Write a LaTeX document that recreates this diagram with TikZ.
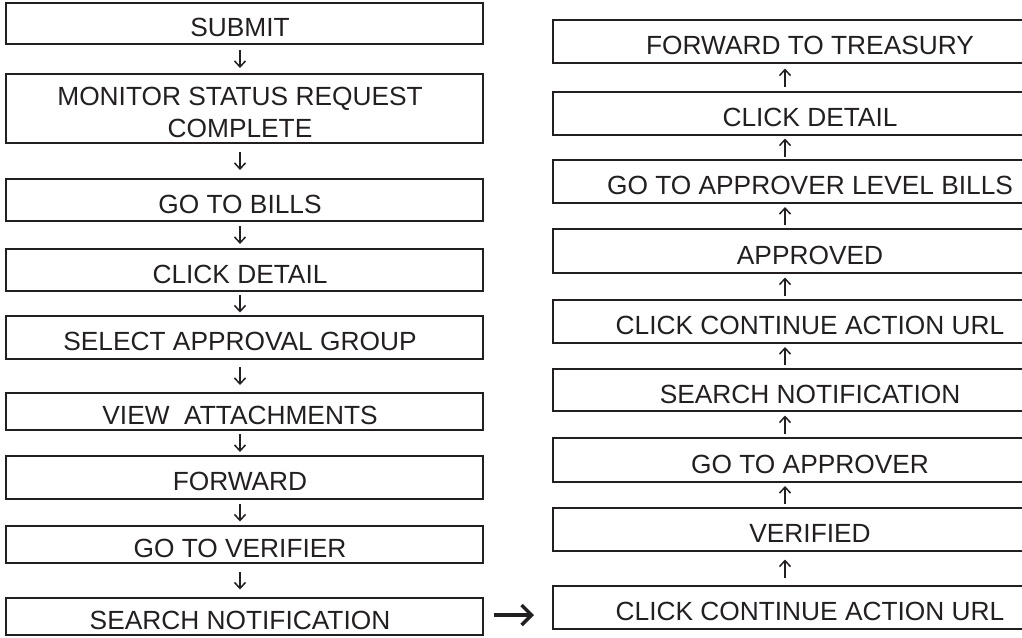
\documentclass[tikz,border=0pt]{standalone}
\usepackage{fontspec}
\setmainfont{Liberation Sans}
\usetikzlibrary{arrows.meta}
\definecolor{ink}{HTML}{231F20}
\newcommand{\lft}{\hspace*{-9pt}}
\begin{document}
\begin{tikzpicture}[x=1pt,y=-1pt,
  box/.style={draw=ink,line width=2pt,inner sep=0pt,text=ink,
    font=\fontsize{26.3}{32}\selectfont,text height=26.8pt,text depth=0pt,minimum height=#1},
  lbox/.style={box=#1,minimum width=477pt},
  rbox/.style={box=#1,minimum width=514pt},
  flow/.style={draw=ink,line width=1.5pt,-{Straight Barb[length=6pt,width=11pt]},shorten <=#1,shorten >=#1},
  jump/.style={draw=ink,line width=3.5pt,-{Straight Barb[length=10pt,width=20pt]},shorten <=10pt,shorten >=18pt}
]
\useasboundingbox (0,0) rectangle (1022,637);
\clip (0,0) rectangle (1022,637);
\coordinate (lx) at (240,0);
\coordinate (rx) at (785,0);
% left column
\node[lbox=41pt]  (L1) at (244.5,23.5)  {\lft SUBMIT};
\node[lbox=69pt,align=center,text height=58.8pt,text depth=0pt] (L2) at (244.5,108.5) {\lft MONITOR STATUS REQUEST\\\lft COMPLETE};
\node[lbox=42pt]  (L3) at (244.5,200)   {\lft GO TO BILLS};
\node[lbox=42pt]  (L4) at (244.5,270)   {\lft CLICK DETAIL};
\node[lbox=43pt]  (L5) at (244.5,337.5) {\lft SELECT APPROVAL GROUP};
\node[lbox=37pt]  (L6) at (244.5,411.5) {\lft VIEW\ \ ATTACHMENTS};
\node[lbox=43pt]  (L7) at (244.5,477.5) {\lft FORWARD};
\node[lbox=37pt]  (L8) at (244.5,544.5) {\lft GO TO VERIFIER};
\node[lbox=37pt]  (L9) at (244.5,616.5) {\lft SEARCH NOTIFICATION};
% right column
\node[rbox=43pt]  (R1) at (810,41.5)  {FORWARD TO TREASURY};
\node[rbox=43pt]  (R2) at (810,113.5) {CLICK DETAIL};
\node[rbox=43pt]  (R3) at (810,181.5) {GO TO APPROVER LEVEL BILLS};
\node[rbox=44pt]  (R4) at (810,251)   {APPROVED};
\node[rbox=43pt]  (R5) at (810,321.5) {CLICK CONTINUE ACTION URL};
\node[rbox=42pt]  (R6) at (810,390)   {SEARCH NOTIFICATION};
\node[rbox=44pt]  (R7) at (810,460)   {GO TO APPROVER};
\node[rbox=43pt]  (R8) at (810,529.5) {VERIFIED};
\node[rbox=43pt]  (R9) at (810,607.5) {CLICK CONTINUE ACTION URL};
% left arrows (down)
\foreach \a/\b/\s in {L1/L2/5,L2/L3/8,L3/L4/4,L4/L5/2.5,L5/L6/7,L6/L7/3,L7/L8/3.5,L8/L9/7.5}
  \draw[flow=\s pt] (\a.south -| lx) -- (\b.north -| lx);
% right arrows (up)
\foreach \a/\b/\s in {R9/R8/7.5,R8/R7/3,R7/R6/3.5,R6/R5/3,R5/R4/3.5,R4/R3/3,R3/R2/2.5,R2/R1/4.5}
  \draw[flow=\s pt] (\a.north -| rx) -- (\b.south -| rx);
% crossing arrow
\draw[jump] ([yshift=1.5pt]L9.east) -- ([yshift=1.5pt]L9.east -| R9.west);
\end{tikzpicture}
\end{document}
